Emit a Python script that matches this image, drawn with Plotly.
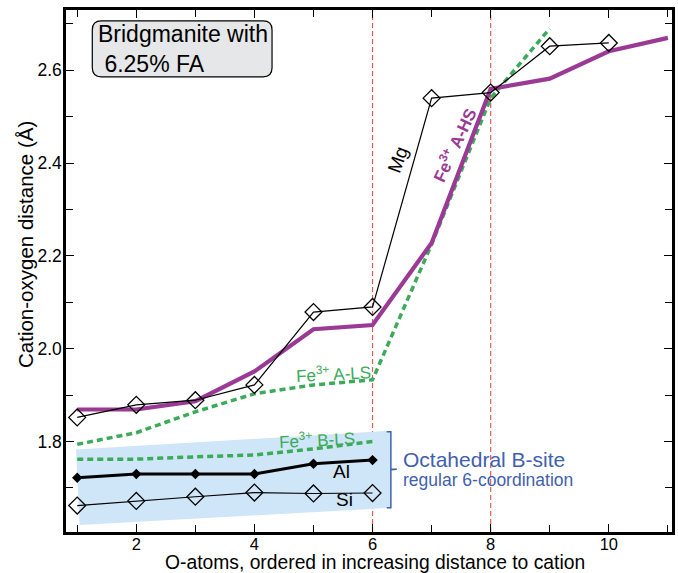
import plotly.graph_objects as go

# ---- data ----
mg_x = [1, 2, 3, 4, 5, 6, 7, 8, 9, 10]
mg_y = [1.852, 1.879, 1.889, 1.922, 2.079, 2.090, 2.540, 2.552, 2.652, 2.659]

fe_ahs_x = [1, 2, 3, 4, 5, 6, 7, 8, 9, 10, 11]
fe_ahs_y = [1.869, 1.869, 1.887, 1.951, 2.042, 2.051, 2.228, 2.560, 2.582, 2.641, 2.670]

fe_als_x = [1, 2, 3, 4, 5, 6, 7, 8, 9]
fe_als_y = [1.794, 1.819, 1.864, 1.903, 1.922, 1.933, 2.225, 2.540, 2.690]

fe_bls_x = [1, 2, 3, 4, 5, 6]
fe_bls_y = [1.762, 1.762, 1.767, 1.771, 1.784, 1.800]

al_x = [1, 2, 3, 4, 5, 6]
al_y = [1.722, 1.730, 1.730, 1.730, 1.752, 1.760]

si_x = [1, 2, 3, 4, 5, 6]
si_y = [1.662, 1.672, 1.681, 1.690, 1.688, 1.689]

x_tick_vals = [2, 4, 6, 8, 10]
y_tick_vals = [1.8, 2.0, 2.2, 2.4, 2.6]
vlines_x = [6, 8]

# ---- styles ----
FONT = "Liberation Sans, Arial, Helvetica, sans-serif"
PURPLE = "#9a3a94"
GREEN = "#3bab5a"
RED = "#e85a5a"
BLUE = "#3f60ae"
LIGHTBLUE = "#cfe5f8"

fig = go.Figure()

fig.add_trace(go.Scatter(x=fe_bls_x, y=fe_bls_y, mode="lines",
                         line=dict(color=GREEN, width=3.5, dash="6px,4px"),
                         hoverinfo="skip"))
fig.add_trace(go.Scatter(x=fe_als_x, y=fe_als_y, mode="lines",
                         line=dict(color=GREEN, width=3.5, dash="6px,4px"),
                         hoverinfo="skip"))
fig.add_trace(go.Scatter(x=fe_ahs_x, y=fe_ahs_y, mode="lines",
                         line=dict(color=PURPLE, width=4.2), hoverinfo="skip"))
fig.add_trace(go.Scatter(x=mg_x, y=mg_y, mode="lines+markers",
                         line=dict(color="black", width=1.2),
                         marker=dict(symbol="diamond-open", size=13,
                                     color="black", line=dict(width=1.3, color="black"))))
fig.add_trace(go.Scatter(x=al_x, y=al_y, mode="lines+markers",
                         line=dict(color="black", width=3),
                         marker=dict(symbol="diamond", size=8, color="black")))
fig.add_trace(go.Scatter(x=si_x, y=si_y, mode="lines+markers",
                         line=dict(color="black", width=1.2),
                         marker=dict(symbol="diamond-open", size=13,
                                     color="black", line=dict(width=1.3, color="black"))))

shapes = []
# light blue region around B-site curves
shapes.append(dict(type="path", xref="x", yref="y", layer="below",
                   path="M 0.98,1.783 L 6.30,1.823 L 6.30,1.657 L 1.04,1.620 Z",
                   fillcolor=LIGHTBLUE, line=dict(width=0)))
# red dashed vertical lines
for xv in vlines_x:
    shapes.append(dict(type="line", xref="x", yref="paper", x0=xv, x1=xv, y0=0, y1=1,
                       layer="below", line=dict(color=RED, width=1.2, dash="5px,3px")))
# bracket
shapes.append(dict(type="path", xref="x", yref="y",
                   path="M 6.24,1.821 L 6.31,1.821 L 6.31,1.741 L 6.41,1.740 L 6.31,1.739 L 6.31,1.657 L 6.24,1.657",
                   line=dict(color=BLUE, width=1.5)))
# rounded box (paper coords)
x0, x1, y0, y1 = 0.0434, 0.340, 0.979, 0.872
rx, ry = 9 / 606, 9 / 522
box_path = (f"M {x0+rx},{y0} L {x1-rx},{y0} Q {x1},{y0} {x1},{y0-ry} "
            f"L {x1},{y1+ry} Q {x1},{y1} {x1-rx},{y1} L {x0+rx},{y1} "
            f"Q {x0},{y1} {x0},{y1+ry} L {x0},{y0-ry} Q {x0},{y0} {x0+rx},{y0} Z")
shapes.append(dict(type="path", xref="paper", yref="paper", path=box_path,
                   fillcolor="#e6e7e8", line=dict(color="black", width=1.2)))

annotations = [
    dict(x=0.049, y=0.9255, xref="paper", yref="paper", xanchor="left", yanchor="middle",
         align="left", showarrow=False,
         text="Bridgmanite with<br> 6.25% FA", font=dict(size=23, color="black", family=FONT)),
    dict(x=6.433, y=2.407, text="Mg", textangle=-70, showarrow=False,
         font=dict(size=19, color="black", family=FONT)),
    dict(x=7.37, y=2.44, text="<b>Fe<sup>3+</sup> A-HS</b>", textangle=-65, showarrow=False,
         font=dict(size=17, color=PURPLE, family=FONT)),
    dict(x=5.345, y=1.948, text="Fe<sup>3+</sup> A-LS", textangle=-3, showarrow=False,
         font=dict(size=17, color=GREEN, family=FONT)),
    dict(x=5.066, y=1.805, text="Fe<sup>3+</sup> B-LS", textangle=-3, showarrow=False,
         font=dict(size=17, color=GREEN, family=FONT)),
    dict(x=5.48, y=1.735, text="Al", showarrow=False,
         font=dict(size=19, color="black", family=FONT)),
    dict(x=5.53, y=1.674, text="Si", showarrow=False,
         font=dict(size=19, color="black", family=FONT)),
    dict(x=6.479, y=1.762, text="Octahedral B-site", xanchor="left", showarrow=False,
         font=dict(size=21, color=BLUE, family=FONT)),
    dict(x=6.479, y=1.717, text="regular 6-coordination", xanchor="left", showarrow=False,
         font=dict(size=17.5, color=BLUE, family=FONT)),
    # axis titles
    dict(x=(375 - 66) / 606, y=1 - (562 - 10) / 522, xref="paper", yref="paper",
         text="O-atoms, ordered in increasing distance to cation", showarrow=False,
         xanchor="center", yanchor="middle", font=dict(size=19.3, color="black", family=FONT)),
    dict(x=(25 - 66) / 606, y=1 - (245 - 10) / 522, xref="paper", yref="paper",
         text="Cation-oxygen distance (Å)", textangle=-90, showarrow=False,
         xanchor="center", yanchor="middle", font=dict(size=20.5, color="black", family=FONT)),
]

fig.update_layout(
    width=678, height=573,
    margin=dict(l=66, r=6, t=10, b=41, autoexpand=False),
    paper_bgcolor="white", plot_bgcolor="white",
    showlegend=False,
    font=dict(family=FONT, size=16, color="black"),
    shapes=shapes,
    annotations=annotations,
    xaxis=dict(range=[0.81, 11.07], tickvals=x_tick_vals, ticks="inside", ticklen=8,
               tickwidth=1.3, tickcolor="black", showline=True, linecolor="black",
               linewidth=2.5, mirror="ticks", showgrid=False, zeroline=False,
               automargin=False, ticklabelstandoff=-5,
               minor=dict(dtick=1, tick0=0, ticks="inside", ticklen=7, tickwidth=1.3,
                          tickcolor="black", showgrid=False),
               tickfont=dict(size=16.5)),
    yaxis=dict(range=[1.605, 2.730], tickvals=y_tick_vals, tickformat=".1f",
               ticks="inside", ticklen=8, tickwidth=1.3, tickcolor="black",
               showline=True, linecolor="black", linewidth=2.5, mirror="ticks",
               showgrid=False, zeroline=False, automargin=False, ticklabelstandoff=-2,
               minor=dict(dtick=0.1, tick0=0, ticks="inside", ticklen=7, tickwidth=1.3,
                          tickcolor="black", showgrid=False),
               tickfont=dict(size=17.5)),
)

fig.write_html("out.html", config={"displayModeBar": False},
               post_script="document.body.style.margin='0px';")
